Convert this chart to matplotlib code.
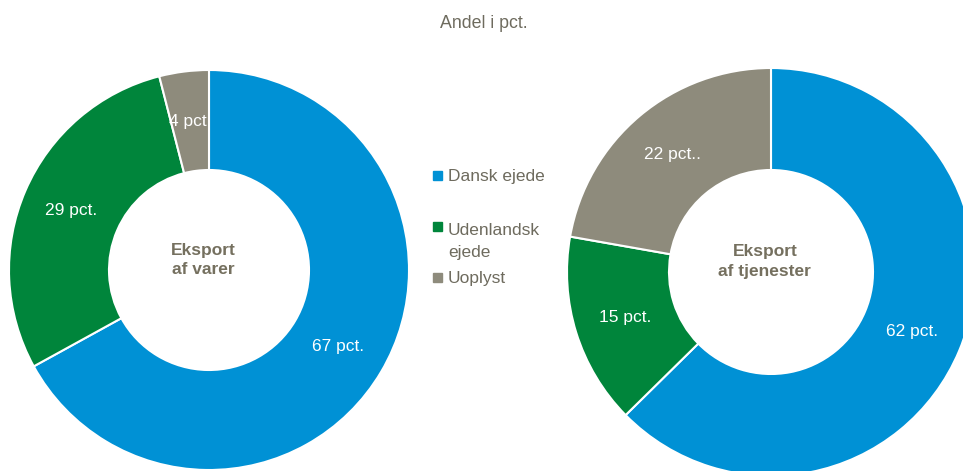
import numpy as np
import matplotlib
matplotlib.use("Agg")
import matplotlib.pyplot as plt
from matplotlib.patches import Rectangle

plt.rcParams['font.family'] = ['Liberation Sans', 'DejaVu Sans']

# data
kategorier = ['Dansk ejede', 'Udenlandsk\nejede', 'Uoplyst']
farver = ['#0091D5', '#00853B', '#8E8B7C']
varer = [67, 29, 4]
varer_tekst = ['67 pct.', '29 pct.', '4 pct.']
tjenester = [62, 15, 22]
tjenester_tekst = ['62 pct.', '15 pct.', '22 pct..']
titel = 'Andel i pct.'
midt_varer = 'Eksport\naf varer'
midt_tjenester = 'Eksport\naf tjenester'

W, H = 963, 471
fig = plt.figure(figsize=(W / 100, H / 100), dpi=100)
tekstfarve = '#6E6B5E'


def donut(cx, cy, r, vals, labels, midt, dx, dy):
    ax = fig.add_axes([(cx - r) / W, (H - cy - r) / H, 2 * r / W, 2 * r / H])
    wedges, _ = ax.pie(vals, colors=farver, startangle=90, counterclock=False,
                       wedgeprops=dict(width=0.5, edgecolor='white', linewidth=1.5))
    for w, lab in zip(wedges, labels):
        a = np.deg2rad((w.theta1 + w.theta2) / 2)
        ax.text(0.75 * np.cos(a), 0.75 * np.sin(a), lab, color='white',
                fontsize=12.5, ha='center', va='center')
    ax.text(dx, dy, midt, color='#75705F', fontsize=12.5, fontweight='bold',
            ha='center', va='center', linespacing=1.4)
    ax.set_xlim(-1, 1)
    ax.set_ylim(-1, 1)
    ax.set_aspect('equal')
    ax.axis('off')
    return ax


donut(209, 270, 200, varer, varer_tekst, midt_varer, -0.03, 0.05)
donut(771, 272, 204, tjenester, tjenester_tekst, midt_tjenester, -0.03, 0.05)

fig.text(484 / W, 1 - 23 / H, titel, color=tekstfarve, fontsize=12.8,
         ha='center', va='center')

# legend (first-line baselines in px from top, line step 25 px)
baselines = [181, 232, 283]
for lab, c, b in zip(kategorier, farver, baselines):
    fig.patches.append(Rectangle((433 / W, 1 - (b - 1) / H), 9 / W, 9 / H,
                                 transform=fig.transFigure, color=c, figure=fig))
    sidste = b + 25 * lab.count('\n')
    fig.text(448 / W, 1 - sidste / H, lab, color=tekstfarve, fontsize=12.5,
             ha='left', va='baseline', linespacing=1.6)

fig.savefig('out.png', dpi=100)
